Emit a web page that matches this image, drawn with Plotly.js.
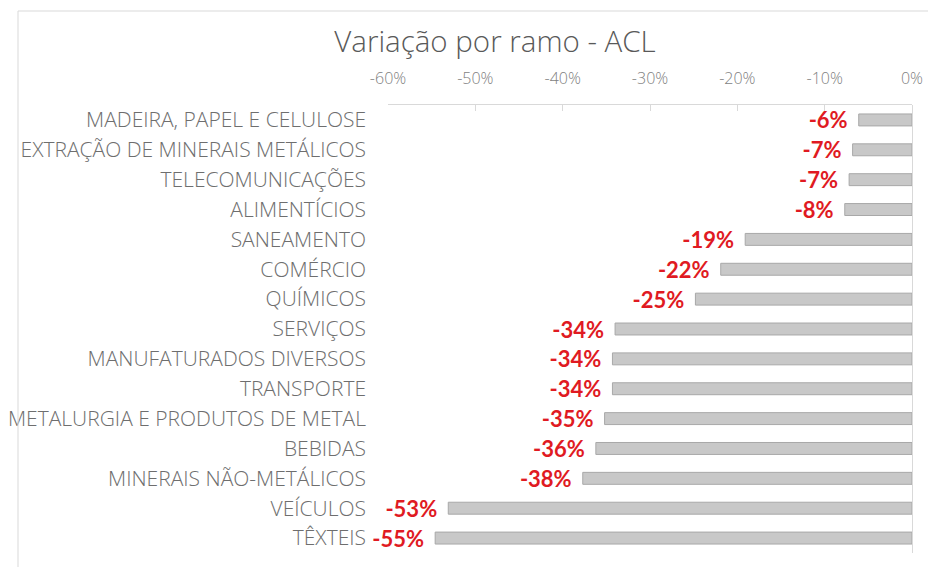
<!DOCTYPE html>
<html>
<head>
<meta charset="utf-8">
<script src="https://cdn.plot.ly/plotly-3.0.1.min.js"></script>
<style>
html,body{margin:0;padding:0;background:#fff;}
#chart{width:928px;height:567px;}
</style>
</head>
<body>
<div id="chart"></div>
<script>
// Data
const categories = [
  "MADEIRA, PAPEL E CELULOSE",
  "EXTRAÇÃO DE MINERAIS METÁLICOS",
  "TELECOMUNICAÇÕES",
  "ALIMENTÍCIOS",
  "SANEAMENTO",
  "COMÉRCIO",
  "QUÍMICOS",
  "SERVIÇOS",
  "MANUFATURADOS DIVERSOS",
  "TRANSPORTE",
  "METALURGIA E PRODUTOS DE METAL",
  "BEBIDAS",
  "MINERAIS NÃO-METÁLICOS",
  "VEÍCULOS",
  "TÊXTEIS"
];
const values = [-6.1, -6.8, -7.2, -7.7, -19.1, -21.9, -24.8, -34.0, -34.3, -34.3, -35.2, -36.2, -37.7, -53.1, -54.6];
const valueLabels = ["-6%", "-7%", "-7%", "-8%", "-19%", "-22%", "-25%", "-34%", "-34%", "-34%", "-35%", "-36%", "-38%", "-53%", "-55%"];
const tickValues = [-60, -50, -40, -30, -20, -10, 0];
const tickLabels = ["-60%", "-50%", "-40%", "-30%", "-20%", "-10%", "0%"];
const chartTitle = "Variação por ramo - ACL";

const W = 928, H = 567;
const mL = 388, mR = 16, mT = 105, mB = 14;
const pw = W - mL - mR, ph = H - mT - mB;
const px = x => (x - mL) / pw;
const py = y => (H - mB - y) / ph;

const trace = {
  type: "bar",
  orientation: "h",
  x: values,
  y: categories,
  text: valueLabels.map(t => t + "\u2009\u00a0"),
  textposition: "outside",
  constraintext: "none",
  cliponaxis: false,
  textfont: {family: "Lato, 'Open Sans', sans-serif", size: 22, color: "#e01a22", weight: "bold"},
  marker: {color: "#c8c8c8", line: {color: "#a8a8a8", width: 1}},
  hoverinfo: "skip"
};

const layout = {
  width: W, height: H,
  margin: {l: mL, r: mR, t: mT, b: mB, pad: 0},
  paper_bgcolor: "#ffffff",
  plot_bgcolor: "#ffffff",
  showlegend: false,
  bargap: 0.6,
  title: {
    text: chartTitle,
    font: {family: "'Open Sans', Lato, sans-serif", size: 29.5, color: "#595959", weight: 300},
    x: 495 / W, xref: "container", xanchor: "center",
    y: 1 - 42 / H, yref: "container", yanchor: "middle"
  },
  xaxis: {
    side: "top",
    range: [-60, 0],
    tickmode: "array",
    tickvals: tickValues,
    ticktext: tickLabels,
    showgrid: false,
    showline: true,
    linecolor: "#d9d9d9",
    linewidth: 1,
    ticks: "inside",
    ticklen: 6,
    tickcolor: "#d9d9d9",
    zeroline: true,
    zerolinecolor: "#d9d9d9",
    zerolinewidth: 1,
    tickfont: {family: "'Open Sans', Lato, sans-serif", size: 16, color: "#7f7f7f", weight: 300},
    ticklabelstandoff: 14,
    fixedrange: true
  },
  yaxis: {
    type: "category",
    categoryorder: "array",
    categoryarray: categories,
    autorange: "reversed",
    showgrid: false,
    showline: false,
    zeroline: false,
    ticks: "",
    tickfont: {family: "'Open Sans', Lato, sans-serif", size: 21, color: "#6e6e6e", weight: 300},
    ticklabelstandoff: 21,
    fixedrange: true
  },
  shapes: [
    {type: "line", xref: "paper", yref: "paper", x0: px(18), x1: px(18), y0: py(11), y1: py(600), line: {color: "#d9d9d9", width: 1}},
    {type: "line", xref: "paper", yref: "paper", x0: px(18), x1: px(960), y0: py(11), y1: py(11), line: {color: "#d9d9d9", width: 1}}
  ]
};

Plotly.newPlot("chart", [trace], layout, {displayModeBar: false, staticPlot: true});
</script>
</body>
</html>
